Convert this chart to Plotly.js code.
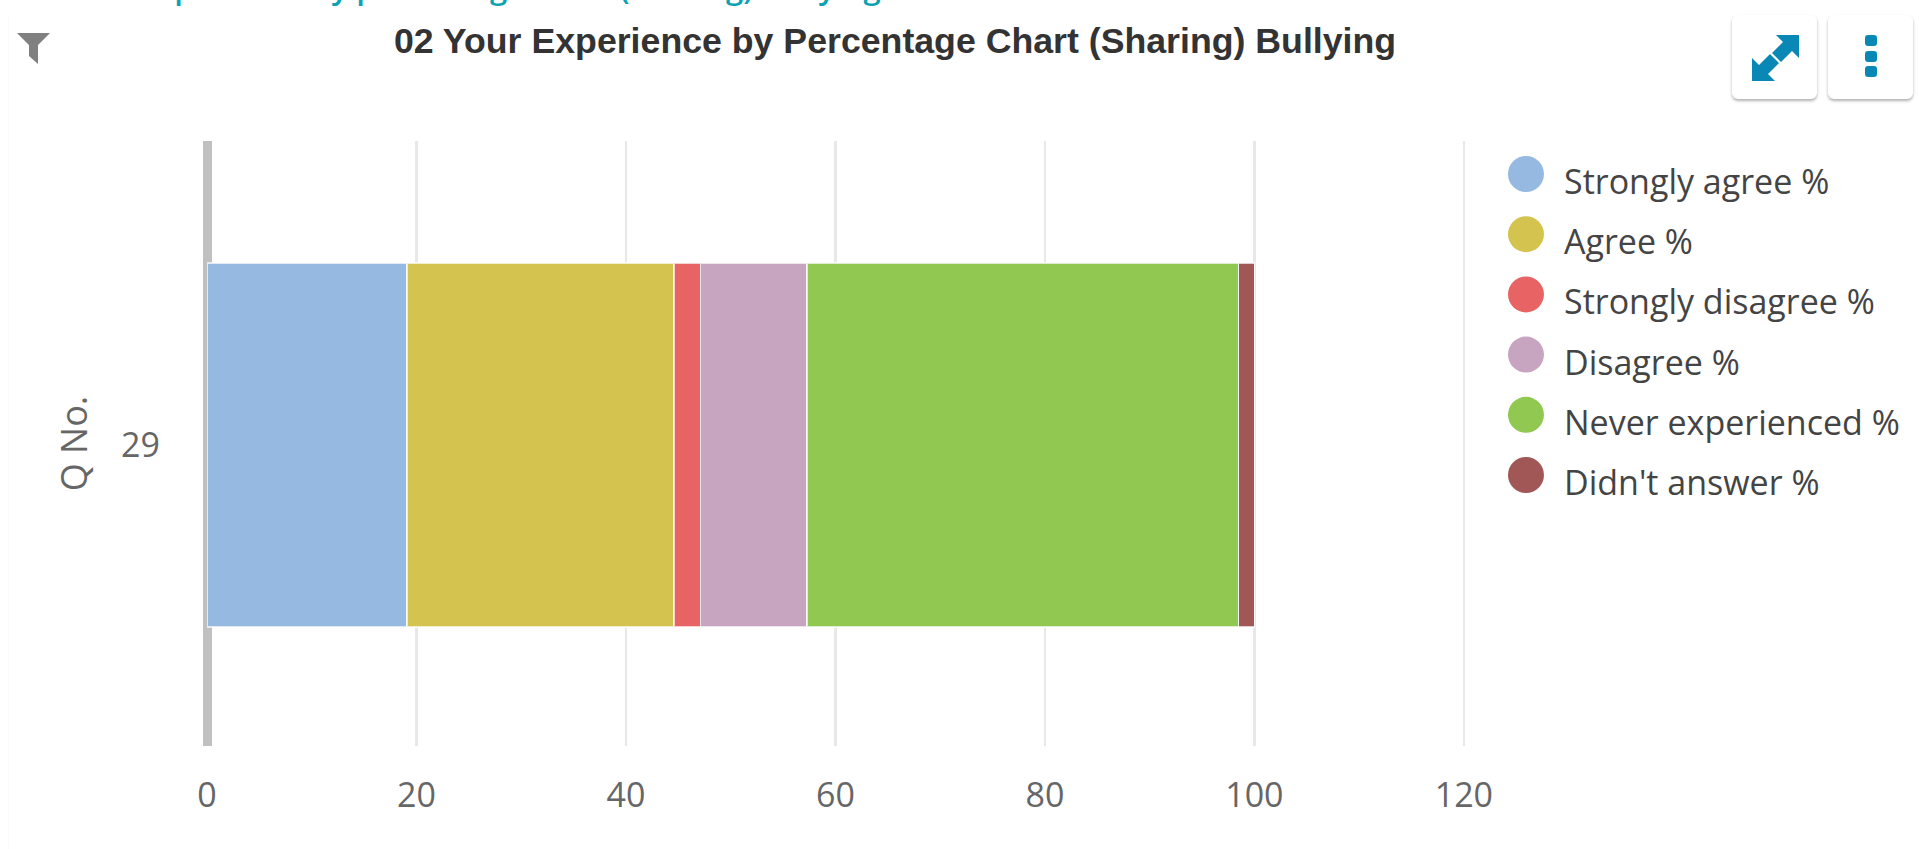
<!DOCTYPE html>
<html><head><meta charset="utf-8">
<script src="https://cdn.plot.ly/plotly-3.0.1.min.js"></script>
<style>
html,body{margin:0;padding:0;background:#fff;width:1919px;height:849px;overflow:hidden}
#chart{position:absolute;left:0;top:0;width:1919px;height:849px}
.btn{position:absolute;top:15px;width:85px;height:84px;background:#fff;border-radius:6px;box-shadow:0 2px 3px rgba(0,0,0,.3)}
.btn svg,#filter{position:absolute;left:0;top:0}
#crumb{position:absolute;left:18px;top:-28px;font:600 31px/30px "Open Sans",sans-serif;color:#0aa3b5;white-space:nowrap}
#edge{position:absolute;left:8px;top:15px;width:1px;height:834px;background:#fbfbfb}
</style></head><body>
<div id="chart"></div>
<div id="edge"></div>
<div id="crumb">02 Your Experience by percentage chart (Sharing) Bullying</div>
<svg id="filter" width="60" height="70"><path d="M17 33H50L38 45V64L29 56V45Z" fill="#808080"/></svg>
<div class="btn" style="left:1732px"><svg width="85" height="84"><g fill="#0a88b5"><path d="M67 20H44L51 27 40 38 49 47 60 36 67 43Z"/><path d="M20 66H43L36 59 47 48 38 39 27 50 20 43Z"/></g></svg></div>
<div class="btn" style="left:1828px"><svg width="85" height="84"><g fill="#0a88b5"><rect x="37" y="20" width="12" height="11" rx="3"/><rect x="37" y="36" width="12" height="11" rx="3"/><rect x="37" y="51" width="12" height="11" rx="3"/></g></svg></div>
<script>
const categories = ['29'];
const seriesNames = ['Strongly agree %','Agree %','Strongly disagree %','Disagree %','Never experienced %',"Didn't answer %"];
const seriesValues = [19.1, 25.5, 2.5, 10.2, 41.2, 1.5];
const seriesColors = ['#95b9e0','#d4c44f','#e86464','#c7a4bf','#90c851','#a25757'];
const xTicks = [0,20,40,60,80,100,120];
const W=1919,H=849;
const plotL=206.5,plotR=1467;
const traces = seriesNames.map((n,i)=>({type:'bar',orientation:'h',name:n,x:[seriesValues[i]],y:categories,
  marker:{color:seriesColors[i],line:{color:'rgba(255,255,255,0.7)',width:1.5}},showlegend:false,width:0.602}));
const shapes=[],annotations=[];
seriesNames.forEach((n,i)=>{
  const cy=174+60.2*i;
  shapes.push({type:'circle',xref:'paper',yref:'paper',x0:(1526-18-plotL)/(plotR-plotL),x1:(1526+18-plotL)/(plotR-plotL),
    y0:(746-(cy+18))/605,y1:(746-(cy-18))/605,fillcolor:seriesColors[i],line:{width:0}});
  annotations.push({xref:'paper',yref:'paper',x:(1562-plotL)/(plotR-plotL),y:(746-(cy+7))/605,xanchor:'left',yanchor:'middle',
    text:n,showarrow:false,font:{family:'"Open Sans"',size:34,color:'#444'}});
});
const layout={width:W,height:H,paper_bgcolor:'#fff',plot_bgcolor:'#fff',barmode:'stack',showlegend:false,
  margin:{l:plotL,r:W-plotR,t:141,b:H-746,pad:0},
  title:{text:'<b>02 Your Experience by Percentage Chart (Sharing) Bullying</b>',x:895/W,xanchor:'center',y:1-41/H,yanchor:'middle',
    font:{family:'"Liberation Sans"',size:35.7,color:'#333'}},
  xaxis:{range:[0,120.3],tickvals:xTicks,showgrid:true,gridcolor:'#e8e8e8',gridwidth:2.5,zeroline:true,zerolinecolor:'#c0c0c0',zerolinewidth:9,
    showline:false,ticks:'',ticklabelstandoff:26,
    tickfont:{family:'"Open Sans"',size:34,color:'#666'},automargin:false,layer:'below traces'},
  yaxis:{type:'category',range:[-0.4975,0.5025],showgrid:false,zeroline:false,showline:false,ticks:'',ticklabelstandoff:46,
    tickfont:{family:'"Open Sans"',size:34,color:'#666'},automargin:false,
    title:{text:'Q No.',font:{family:'"Open Sans"',size:36,color:'#666'},standoff:22}},
  shapes,annotations};
Plotly.newPlot('chart',traces,layout,{displayModeBar:false,staticPlot:true});
</script></body></html>
